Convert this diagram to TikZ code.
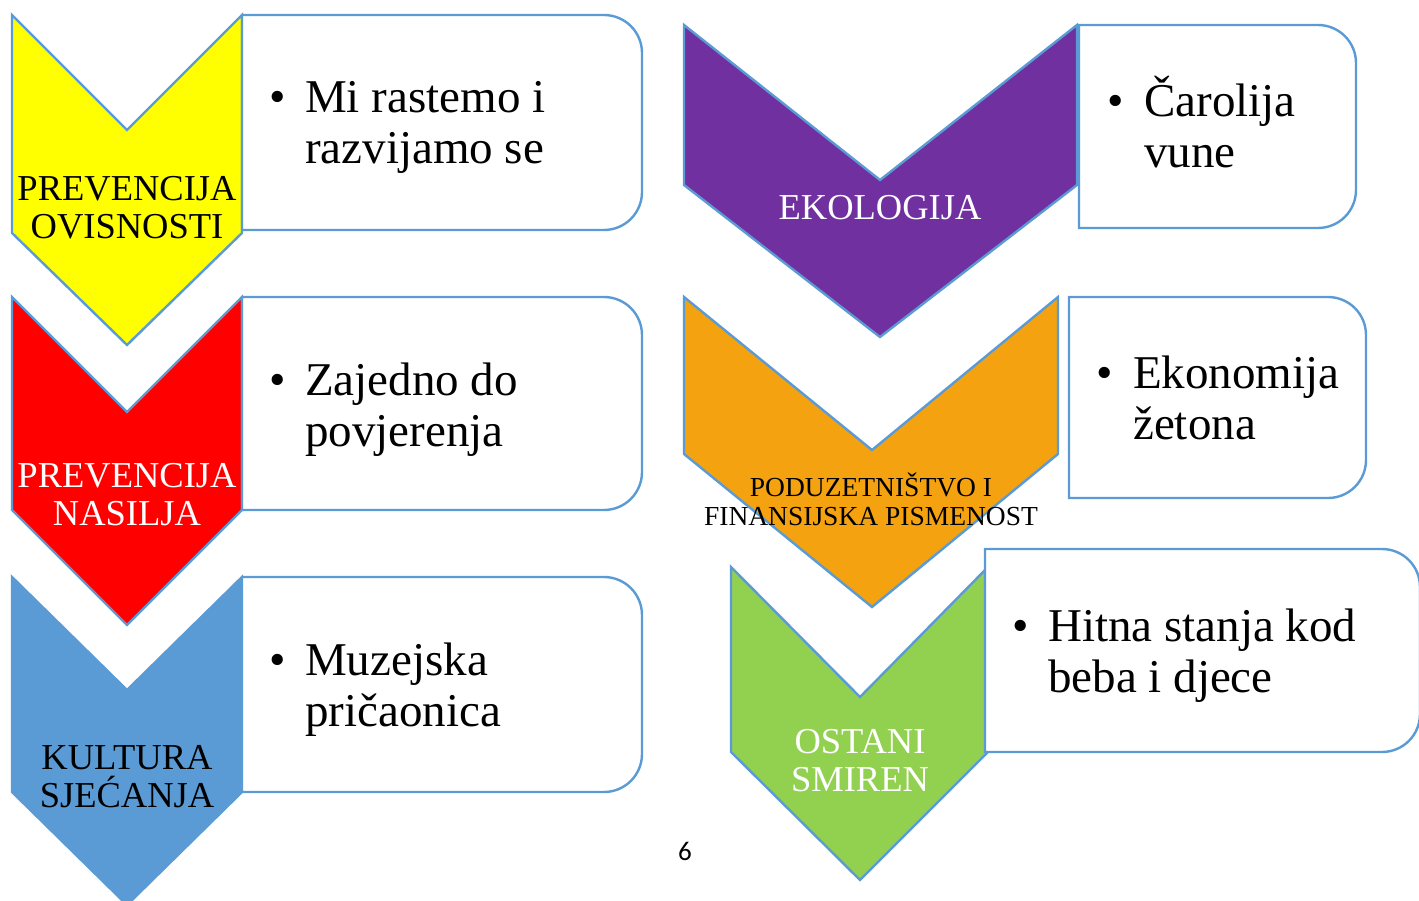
\documentclass[tikz,border=0pt]{standalone}
\usepackage{fontspec}
\setmainfont{Liberation Serif}
\newfontfamily\pagefont{Carlito}
\definecolor{edgeblue}{HTML}{5B9BD5}
\definecolor{cyel}{HTML}{FFFF00}
\definecolor{cred}{HTML}{FF0000}
\definecolor{cblue}{HTML}{5B9BD5}
\definecolor{cpurple}{HTML}{7030A0}
\definecolor{corange}{HTML}{F4A20F}
\definecolor{cgreen}{HTML}{92D050}
\newcommand\rbox[4]{(#1,#2) -- ({#3-38},#2) .. controls ({#3-17},#2) and (#3,{#2+17}) .. (#3,{#2+38}) -- (#3,{#4-38}) .. controls (#3,{#4-17}) and ({#3-17},#4) .. ({#3-38},#4) -- (#1,#4) -- cycle}
\tikzset{
  chevshape/.style={draw=edgeblue, line width=2.4pt, line join=miter},
  boxshape/.style={draw=edgeblue, line width=2.4pt, fill=white},
  chevlabel/.style={inner sep=0pt, align=center, anchor=base, font=\fontsize{36.5}{38}\selectfont},
  bulletmark/.style={inner sep=0pt, anchor=base, font=\fontsize{47}{52}\selectfont},
  bullettext/.style={inner sep=0pt, anchor=base west, align=left, font=\fontsize{47}{51}\selectfont},
}
\begin{document}
\begin{tikzpicture}[x=1pt,y=-1pt]
\useasboundingbox (0,0) rectangle (1419,901);
\clip (0,0) rectangle (1419,901);
% ---------- left column ----------
\path[chevshape, fill=cyel] (12,15) -- (127,130) -- (242,15) -- (242,233) -- (127,345) -- (12,233) -- cycle;
\path[boxshape] \rbox{242}{15}{642}{230};
\node[chevlabel] (l1) at (127,239) {PREVENCIJA\\OVISNOSTI};
\node[bulletmark] (m1) at (278,113) {\textbullet};
\node[bullettext] (t1) at (305,164) {Mi rastemo i\\razvijamo se};

\path[chevshape, fill=cred] (12,297) -- (127,412) -- (242,297) -- (242,510) -- (127,625) -- (12,510) -- cycle;
\path[boxshape] \rbox{242}{297}{642}{510};
\node[chevlabel, text=white] (l2) at (127,525) {PREVENCIJA\\NASILJA};
\node[bulletmark] (m2) at (278,395) {\textbullet};
\node[bullettext] (t2) at (305,446) {Zajedno do\\povjerenja};

\path[chevshape, fill=cblue] (12,577) -- (127,690) -- (242,577) -- (242,792) -- (127,905) -- (12,792) -- cycle;
\path[boxshape] \rbox{242}{577}{642}{792};
\node[chevlabel] (l3) at (127,807) {KULTURA\\SJEĆANJA};
\node[bulletmark] (m3) at (278,675) {\textbullet};
\node[bullettext] (t3) at (305,726) {Muzejska\\pričaonica};

% ---------- right column ----------
\path[chevshape, fill=cpurple] (684,25) -- (880,180) -- (1077,25) -- (1077,185) -- (880,337) -- (684,185) -- cycle;
\path[boxshape] \rbox{1079}{25}{1356}{228};
\node[chevlabel, text=white] (l4) at (880,220) {EKOLOGIJA};
\node[bulletmark] (m4) at (1116,117) {\textbullet};
\node[bullettext] (t4) at (1144,168) {Čarolija\\vune};

\path[chevshape, fill=corange] (684,297) -- (872,450) -- (1058,297) -- (1058,454) -- (872,607) -- (684,454) -- cycle;
\path[boxshape] \rbox{1069}{297}{1366}{498};
\node[chevlabel, font=\fontsize{27.5}{29.5}\selectfont] (l5) at (871,525.5) {PODUZETNIŠTVO I\\FINANSIJSKA PISMENOST};
\node[bulletmark] (m5) at (1105,388) {\textbullet};
\node[bullettext] (t5) at (1133,439) {Ekonomija\\žetona};

\path[chevshape, fill=cgreen] (731,567) -- (860,697) -- (988,567) -- (988,752) -- (860,880) -- (731,752) -- cycle;
\path[boxshape] \rbox{985}{549}{1420}{752};
\node[chevlabel, text=white] (l6) at (860,791) {OSTANI\\SMIREN};
\node[bulletmark] (m6) at (1021,641) {\textbullet};
\node[bullettext] (t6) at (1048,692) {Hitna stanja kod\\beba i djece};

% ---------- page number ----------
\node[inner sep=0pt, font=\pagefont\fontsize{27}{30}\selectfont] (pg) at (685,851) {6};
\end{tikzpicture}
\end{document}
